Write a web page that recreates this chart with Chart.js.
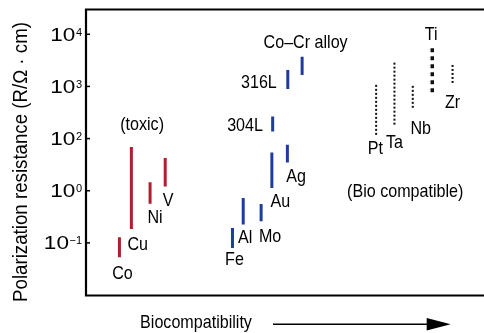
<!DOCTYPE html>
<html><head><meta charset="utf-8">
<script src="https://cdn.jsdelivr.net/npm/chart.js@4.4.1/dist/chart.umd.min.js"></script>
<style>html,body{margin:0;padding:0;background:#fff;overflow:hidden}canvas{display:block}</style>
</head><body><canvas id="c" width="484" height="333"></canvas>
<script>
// ---- data ----
const materials = ['Co','Cu','Ni','V','Fe','Al','Mo','Au','Ag','304L','316L','Co–Cr alloy','Pt','Ta','Nb','Ti','Zr'];
const biocompatibility = [8.4, 11.4, 16.1, 19.9, 36.8, 39.5, 44.0, 46.7, 50.6, 46.9, 50.7, 54.3, 72.9, 77.5, 82.1, 87.0, 92.1];
const resistanceLow  = [0.53, 1.85, 5.65, 12.1, 0.80, 2.24, 2.59, 11.3, 34.9, 137, 897, 1663, 110, 184, 384, 689, 1072];
const resistanceHigh = [1.28, 68.7, 14.5, 42.4, 1.94, 7.26, 5.57, 54.2, 76.0, 265, 2075, 3724, 1072, 2858, 1026, 5395, 2582];
const groups = ['toxic','toxic','toxic','toxic','metal','metal','metal','metal','metal','metal','metal','metal','bio','bio','bio','bioTi','bio'];
const yTickValues = [1, 10, 100, 1000, 10000];
const yTickExponents = ['−1', '0', '2', '3', '4'];
const notes = ['(toxic)', '(Bio compatible)'];
const noteX = [14.1, 80.2];
const noteY = [192, 10.2];
const yTitle = 'Polarization resistance (R/Ω · cm)';
const xTitle = 'Biocompatibility';

// ---- layout / style (not data) ----
const labelPlacement = [
  ['below', 3, 15], ['below', 6.4, 14.7], ['below', 5, 13], ['below', 3, 12.5],
  ['below', 2, 10], ['below', 2, 11.7], ['below', 9, 14], ['below', 8.5, 12.7], ['below', 8.7, 13],
  ['left', -9.7, 0.8], ['left', -11, 1.5], ['above', 3.5, -15],
  ['below', -0.7, 11.3], ['below', 0, 16.7], ['below', 8, 19.7], ['above', -1, -15], ['below', 0, 16.7]
];
const groupStyle = {
  toxic: {color: '#b01e2d', width: 3, dash: []},
  metal: {color: '#1d3c9b', width: 3, dash: []},
  bio:   {color: '#111111', width: 2, dash: [2, 2]},
  bioTi: {color: '#111111', width: 3.5, dash: [4, 4]}
};
const FONT = '"Liberation Sans", Arial, sans-serif';
const LABEL_SIZE = 18.5, SQUEEZE = 0.87;

const datasets = materials.map((m, i) => {
  const st = groupStyle[groups[i]];
  return {
    label: m,
    data: [{x: biocompatibility[i], y: resistanceHigh[i]}, {x: biocompatibility[i], y: resistanceLow[i]}],
    showLine: true,
    borderColor: st.color,
    backgroundColor: st.color,
    borderWidth: st.width,
    borderDash: st.dash,
    borderCapStyle: 'butt',
    pointRadius: 0,
    pointHoverRadius: 0,
    fill: false
  };
});

function squeezedText(ctx, text, x, y, align, size, sx) {
  ctx.save();
  ctx.font = size + 'px ' + FONT;
  ctx.textBaseline = 'alphabetic';
  ctx.textAlign = align;
  ctx.translate(x, y);
  ctx.scale(sx, 1);
  ctx.fillText(text, 0, 0);
  ctx.restore();
}

const decor = {
  id: 'decor',
  afterDraw(chart) {
    const ctx = chart.ctx, a = chart.chartArea;
    const xs = chart.scales.x, ys = chart.scales.y;
    ctx.save();
    // frame
    ctx.strokeStyle = '#000';
    ctx.lineWidth = 2.2;
    ctx.beginPath();
    ctx.moveTo(a.right, a.top); ctx.lineTo(a.left, a.top); ctx.lineTo(a.left, a.bottom); ctx.lineTo(a.right, a.bottom);
    ctx.stroke();
    // ticks and tick labels
    ctx.lineWidth = 1.5;
    ctx.fillStyle = '#000';
    yTickValues.forEach((v, i) => {
      const py = ys.getPixelForValue(v);
      ctx.beginPath(); ctx.moveTo(a.left, py); ctx.lineTo(a.left + 4, py); ctx.stroke();
      ctx.font = '11px ' + FONT;
      ctx.textAlign = 'right'; ctx.textBaseline = 'alphabetic';
      const supRight = a.left - 4;
      const supW = ctx.measureText(yTickExponents[i]).width;
      ctx.fillText(yTickExponents[i], supRight, py + 1.5);
      ctx.save();
      ctx.translate(supRight - supW - 0.5, py + 6.6);
      ctx.scale(1.22, 1);
      ctx.font = '18.5px ' + FONT;
      ctx.fillText('10', 0, 0);
      ctx.restore();
    });
    // y title
    ctx.save();
    ctx.translate(21, 162);
    ctx.rotate(-Math.PI / 2);
    ctx.scale(0.89, 1);
    ctx.font = '21px ' + FONT;
    ctx.textAlign = 'center'; ctx.textBaseline = 'middle';
    ctx.fillText(yTitle, 0, 0);
    ctx.restore();
    // x title + arrow
    squeezedText(ctx, xTitle, 196, 327.5, 'center', LABEL_SIZE, SQUEEZE);
    ctx.lineWidth = 1.5;
    ctx.beginPath(); ctx.moveTo(273, 324.3); ctx.lineTo(432, 324.3); ctx.stroke();
    ctx.beginPath(); ctx.moveTo(450.7, 324.3); ctx.lineTo(426.7, 318); ctx.lineTo(426.7, 330.6); ctx.closePath(); ctx.fill();
    // material labels
    const capHalf = LABEL_SIZE * 0.36;
    materials.forEach((m, i) => {
      const [side, dx, dy] = labelPlacement[i];
      const bx = xs.getPixelForValue(biocompatibility[i]);
      const top = ys.getPixelForValue(resistanceHigh[i]);
      const bot = ys.getPixelForValue(resistanceLow[i]);
      let cy, align = 'center';
      if (side === 'below') cy = bot + dy;
      else if (side === 'above') cy = top + dy;
      else { align = 'right'; cy = (top + bot) / 2 + dy; }
      squeezedText(ctx, m, bx + dx, cy + capHalf, align, LABEL_SIZE, SQUEEZE);
    });
    // notes
    notes.forEach((n, i) => {
      squeezedText(ctx, n, xs.getPixelForValue(noteX[i]), ys.getPixelForValue(noteY[i]) + capHalf, 'center', LABEL_SIZE, SQUEEZE);
    });
    ctx.restore();
  }
};

new Chart(document.getElementById('c'), {
  type: 'scatter',
  data: {datasets},
  options: {
    responsive: false,
    animation: false,
    devicePixelRatio: 1,
    layout: {padding: {left: 86, top: 9.5, right: 0, bottom: 37.5}},
    plugins: {legend: {display: false}, tooltip: {enabled: false}},
    scales: {
      x: {type: 'linear', min: 0, max: 100, display: false},
      y: {type: 'logarithmic', min: 0.098, max: 29850, display: false}
    }
  },
  plugins: [decor]
});
</script>
</body></html>
